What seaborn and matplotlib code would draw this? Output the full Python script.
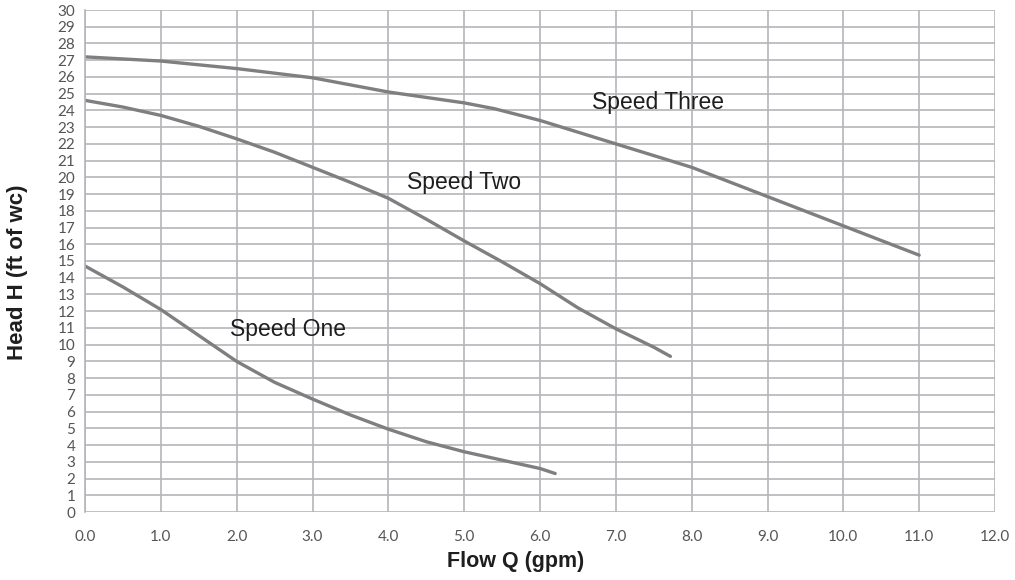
import numpy as np
import pandas as pd
import matplotlib
matplotlib.use("Agg")
import matplotlib.pyplot as plt
import seaborn as sns

# Data
speed_one_q = [0.0, 0.5, 1.0, 1.5, 2.0, 2.5, 3.0, 3.5, 4.0, 4.5, 5.0, 5.5, 6.0, 6.2]
speed_one_h = [14.7, 13.45, 12.1, 10.55, 9.0, 7.75, 6.75, 5.8, 4.95, 4.2, 3.6, 3.1, 2.6, 2.3]

speed_two_q = [0.0, 0.5, 1.0, 1.5, 2.0, 2.5, 3.0, 3.5, 4.0, 4.5, 5.0, 5.5, 6.0, 6.5, 7.0, 7.5, 7.72]
speed_two_h = [24.6, 24.2, 23.7, 23.05, 22.3, 21.5, 20.6, 19.7, 18.75, 17.5, 16.2, 14.95, 13.65, 12.2, 10.95, 9.85, 9.3]

speed_three_q = [0.0, 1.0, 2.0, 3.0, 4.0, 5.0, 5.4, 6.0, 7.0, 8.0, 9.0, 10.0, 11.0]
speed_three_h = [27.2, 26.95, 26.5, 25.95, 25.1, 24.45, 24.1, 23.4, 22.0, 20.6, 18.85, 17.1, 15.35]

labels = ["Speed One", "Speed Two", "Speed Three"]
label_pos_q = [1.91, 4.25, 6.69]
label_pos_h = [10.9, 19.7, 24.45]

x_ticks = [0.0, 1.0, 2.0, 3.0, 4.0, 5.0, 6.0, 7.0, 8.0, 9.0, 10.0, 11.0, 12.0]
y_ticks = list(range(0, 31))

frames = []
for name, q, h in [("Speed One", speed_one_q, speed_one_h),
                   ("Speed Two", speed_two_q, speed_two_h),
                   ("Speed Three", speed_three_q, speed_three_h)]:
    frames.append(pd.DataFrame({"Q": q, "H": h, "curve": name}))
df = pd.concat(frames, ignore_index=True)

sns.set_style("white")
plt.rcParams["font.family"] = ["Lato", "DejaVu Sans"]

fig = plt.figure(figsize=(10.15, 5.8), dpi=100)
ax = fig.add_axes([85 / 1015, 1 - 512 / 580, (995 - 85) / 1015, (512 - 10) / 580])

ax.set_xlim(0, 12)
ax.set_ylim(0, 30)
ax.set_xticks(x_ticks)
ax.set_yticks(y_ticks)
ax.set_xticklabels([f"{v:.1f}" for v in x_ticks])
ax.set_yticklabels([str(v) for v in y_ticks])

ax.grid(True, color="#b4b4ba", linewidth=1.2)
ax.set_axisbelow(True)
for s in ["top", "right", "bottom"]:
    ax.spines[s].set_visible(False)
ax.spines["left"].set_color("#b4b4ba")
ax.spines["left"].set_linewidth(1.2)

sns.lineplot(data=df, x="Q", y="H", units="curve", estimator=None, sort=False,
             color="#7f7f7f", linewidth=2.4, ax=ax, legend=False)

ax.tick_params(axis="both", which="major", length=5, width=1.0, color="#b4b4ba",
               labelcolor="#555555", labelsize=11, pad=2)
ax.tick_params(axis="x", pad=8)

for lab, q, h in zip(labels, label_pos_q, label_pos_h):
    ax.text(q, h, lab, fontsize=16.5, color="#1e1e1e", ha="left", va="center",
            family=["Liberation Sans", "DejaVu Sans"])

ax.set_xlabel("Flow Q (gpm)", fontsize=15.5, fontweight="bold", color="#1e1e1e",
              family=["Liberation Sans", "DejaVu Sans"])
ax.set_ylabel("Head H (ft of wc)", fontsize=16, fontweight="bold", color="#1e1e1e",
              family=["Liberation Sans", "DejaVu Sans"])
ax.xaxis.set_label_coords((516 - 85) / 910, (512 - 562) / 502)
ax.xaxis.label.set_va("center")
ax.yaxis.set_label_coords((18 - 85) / 910, (512 - 272) / 502)
ax.yaxis.label.set_va("center")

fig.savefig("out.png", dpi=100, facecolor="white")
